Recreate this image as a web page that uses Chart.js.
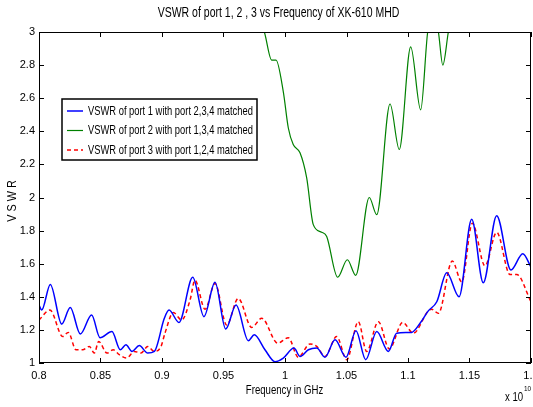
<!DOCTYPE html>
<html lang="en">
<head>
    <meta charset="UTF-8">
    <title>VSWR of port 1, 2 , 3</title>
    <style>
        body {
            margin: 0;
            padding: 0;
            background-color: #fff;
            overflow: hidden;
        }

        #vswrChart {
            display: block;
        }
    </style>
</head>
<body>
    <canvas id="vswrChart" width="533" height="407"></canvas>

    <script src="https://cdn.jsdelivr.net/npm/chart.js"></script>

    <script>
        // Frequency axis is in units of 1e10 Hz, as in the original plot
        const xTicks = [0.8, 0.85, 0.9, 0.95, 1, 1.05, 1.1, 1.15, 1.2];
        const yTicks = [1, 1.2, 1.4, 1.6, 1.8, 2, 2.2, 2.4, 2.6, 2.8, 3];

        const legendLabels = [
            'VSWR of port 1 with port 2,3,4 matched',
            'VSWR of port 2 with port 1,3,4 matched',
            'VSWR of port 3 with port 1,2,4 matched'
        ];

        // port 1
        const freqPort1 = [0.800, 0.8022, 0.8092, 0.8185, 0.8254, 0.8336, 0.8428, 0.8496, 0.8593, 0.8661,
            0.8707, 0.8756, 0.8815, 0.8884, 0.8938, 0.9019, 0.9057, 0.9138, 0.9250, 0.9341,
            0.9431, 0.9518, 0.9602, 0.9702, 0.9750, 0.9837, 0.9919, 0.9986, 1.0073, 1.0122,
            1.0190, 1.0258, 1.0325, 1.0407, 1.0496, 1.0577, 1.0656, 1.0746, 1.0840, 1.0908,
            1.1030, 1.1098, 1.1165, 1.1234, 1.1315, 1.1415, 1.1518, 1.1612, 1.1721, 1.1837,
            1.1933, 1.2];
        const vswrPort1 = [1.35, 1.32, 1.475, 1.235, 1.335, 1.175, 1.29, 1.153, 1.19, 1.08,
            1.11, 1.07, 1.105, 1.06, 1.07, 1.27, 1.32, 1.245, 1.518, 1.28,
            1.488, 1.205, 1.35, 1.135, 1.17, 1.08, 1.008, 1.03, 1.09, 1.04,
            1.08, 1.09, 1.035, 1.14, 1.035, 1.195, 1.02, 1.19, 1.07, 1.18,
            1.185, 1.24, 1.315, 1.37, 1.545, 1.40, 1.868, 1.485, 1.89, 1.562,
            1.66, 1.58];

        // port 2 (leaves the top of the plot on both sides)
        const freqPort2 = [0.9756, 0.9832, 0.9892, 0.9927, 0.9986, 1.0027, 1.0067, 1.0122, 1.0176, 1.0230,
            1.0298, 1.0339, 1.0428, 1.0507, 1.0575, 1.0685, 1.0746, 1.0854, 1.0929, 1.1022,
            1.1103, 1.1160, 1.1203, 1.1247, 1.1283, 1.1328, 1.138];
        const vswrPort2 = [3.12, 3.0, 2.83, 2.83, 2.64, 2.42, 2.32, 2.27, 2.12, 1.836,
            1.79, 1.765, 1.518, 1.624, 1.53, 2.0, 1.896, 2.565, 2.29, 2.91,
            2.53, 3.0, 3.12, 3.0, 2.80, 3.0, 3.2];

        // port 3
        const freqPort3 = [0.800, 0.8089, 0.8193, 0.8238, 0.8301, 0.8355, 0.8409, 0.8450, 0.8485, 0.8553,
            0.8604, 0.8653, 0.8713, 0.8775, 0.8829, 0.8884, 0.8938, 0.8992, 0.9024, 0.9092,
            0.9160, 0.9228, 0.9268, 0.9350, 0.9431, 0.9526, 0.9620, 0.9729, 0.9811, 0.9941,
            1.0027, 1.0108, 1.0203, 1.0258, 1.0325, 1.0420, 1.0502, 1.0596, 1.0664, 1.0759,
            1.0848, 1.0957, 1.1043, 1.1165, 1.1193, 1.1247, 1.1360, 1.1437, 1.1523, 1.1626,
            1.1721, 1.1829, 1.1884, 1.2];
        const vswrPort3 = [1.26, 1.32, 1.16, 1.185, 1.08, 1.08, 1.10, 1.06, 1.13, 1.06,
            1.08, 1.05, 1.03, 1.07, 1.06, 1.10, 1.07, 1.10, 1.18, 1.305,
            1.26, 1.38, 1.50, 1.325, 1.48, 1.23, 1.39, 1.215, 1.27, 1.12,
            1.153, 1.035, 1.115, 1.10, 1.04, 1.16, 1.02, 1.25, 1.07, 1.25,
            1.085, 1.245, 1.18, 1.315, 1.325, 1.30, 1.616, 1.49, 1.845, 1.587,
            1.79, 1.535, 1.535, 1.37];

        const FONT = "'Liberation Sans', Arial, sans-serif";

        function toPoints(xs, ys) {
            return xs.map((x, i) => ({ x: x, y: ys[i] }));
        }

        function fmt(v) {
            return String(+v.toFixed(2));
        }

        // the original text is a narrow Helvetica, so squeeze it horizontally
        function narrowText(ctx, text, x, y, size, squeeze, align, angle) {
            ctx.save();
            ctx.translate(x, y);
            if (angle) ctx.rotate(angle);
            ctx.scale(squeeze, 1);
            ctx.font = size + 'px ' + FONT;
            ctx.textAlign = align;
            ctx.textBaseline = 'middle';
            ctx.fillStyle = '#000';
            ctx.fillText(text, 0, 0);
            ctx.restore();
        }

        // MATLAB style box, inward ticks, legend, titles and exponent label
        const matlabFrame = {
            id: 'matlabFrame',
            afterDatasetsDraw(chart) {
                const ctx = chart.ctx;
                const a = chart.chartArea;
                const xs = chart.scales.x;
                const ys = chart.scales.y;
                ctx.save();

                ctx.strokeStyle = '#000';
                ctx.lineWidth = 1;
                ctx.strokeRect(Math.round(a.left) + 0.5, Math.round(a.top) + 0.5,
                    Math.round(a.right - a.left) - 1, Math.round(a.bottom - a.top) - 1);

                ctx.beginPath();
                xTicks.forEach(v => {
                    const px = Math.round(xs.getPixelForValue(v)) + 0.5;
                    ctx.moveTo(px, a.bottom);
                    ctx.lineTo(px, a.bottom - 5);
                    ctx.moveTo(px, a.top);
                    ctx.lineTo(px, a.top + 5);
                });
                yTicks.forEach(v => {
                    const py = Math.round(ys.getPixelForValue(v)) + 0.5;
                    ctx.moveTo(a.left, py);
                    ctx.lineTo(a.left + 5, py);
                    ctx.moveTo(a.right, py);
                    ctx.lineTo(a.right - 5, py);
                });
                ctx.stroke();

                // legend
                const bx = a.left + 23, by = a.top + 67, bw = 195, bh = 61;
                ctx.fillStyle = '#fff';
                ctx.fillRect(bx, by, bw, bh);
                ctx.lineWidth = 1.5;
                ctx.strokeStyle = '#000';
                ctx.strokeRect(bx, by, bw, bh);
                chart.data.datasets.forEach((ds, i) => {
                    const ry = by + 12 + i * 19.5;
                    ctx.beginPath();
                    ctx.strokeStyle = ds.borderColor;
                    ctx.lineWidth = ds.borderWidth;
                    ctx.setLineDash(ds.borderDash || []);
                    ctx.moveTo(bx + 5, ry);
                    ctx.lineTo(bx + 21, ry);
                    ctx.stroke();
                    ctx.setLineDash([]);
                    narrowText(ctx, ds.label, bx + 26, ry, 13, 0.72, 'left');
                });

                // titles
                narrowText(ctx, 'VSWR of port 1, 2 , 3 vs Frequency of XK-610 MHD', 278.5, 13, 14, 0.75, 'center');
                narrowText(ctx, 'Frequency in GHz', 284.5, 391, 12, 0.8, 'center');
                narrowText(ctx, 'V S W R', 13, 201, 12, 0.9, 'center', -Math.PI / 2);

                // exponent
                narrowText(ctx, 'x 10', 505, 398, 12, 0.8, 'left');
                narrowText(ctx, '10', 524, 389, 8, 0.8, 'left');

                ctx.restore();
            }
        };

        const ctx = document.getElementById('vswrChart').getContext('2d');
        const chart = new Chart(ctx, {
            type: 'line',
            data: {
                datasets: [{
                    label: legendLabels[0],
                    data: toPoints(freqPort1, vswrPort1),
                    borderColor: '#0000ff',
                    borderWidth: 1.5,
                    pointRadius: 0,
                    cubicInterpolationMode: 'monotone',
                    clip: 0
                }, {
                    label: legendLabels[1],
                    data: toPoints(freqPort2, vswrPort2),
                    borderColor: '#008000',
                    borderWidth: 1.2,
                    pointRadius: 0,
                    cubicInterpolationMode: 'monotone',
                    clip: 0
                }, {
                    label: legendLabels[2],
                    data: toPoints(freqPort3, vswrPort3),
                    borderColor: '#ff0000',
                    borderWidth: 1.5,
                    borderDash: [4, 3],
                    pointRadius: 0,
                    cubicInterpolationMode: 'monotone',
                    clip: 0
                }]
            },
            options: {
                responsive: false,
                animation: false,
                layout: { padding: { left: 0, right: 2, top: 32, bottom: 0 } },
                scales: {
                    x: {
                        type: 'linear',
                        min: 0.8,
                        max: 1.2,
                        afterBuildTicks: s => { s.ticks = xTicks.map(v => ({ value: v })); },
                        afterFit: s => { s.height = 44; s.paddingLeft = 0; s.paddingRight = 0; },
                        grid: { display: false, drawTicks: false },
                        border: { display: false },
                        ticks: {
                            autoSkip: false,
                            maxRotation: 0,
                            padding: 6,
                            color: '#000',
                            font: { family: FONT, size: 11 },
                            callback: v => fmt(v)
                        }
                    },
                    y: {
                        min: 1,
                        max: 3,
                        afterBuildTicks: s => { s.ticks = yTicks.map(v => ({ value: v })); },
                        afterFit: s => { s.width = 39; s.paddingTop = 0; s.paddingBottom = 0; },
                        grid: { display: false, drawTicks: false },
                        border: { display: false },
                        ticks: {
                            autoSkip: false,
                            padding: 4,
                            color: '#000',
                            font: { family: FONT, size: 11 },
                            callback: v => fmt(v)
                        }
                    }
                },
                plugins: {
                    legend: { display: false },
                    tooltip: { enabled: false }
                }
            },
            plugins: [matlabFrame]
        });
    </script>
</body>
</html>
